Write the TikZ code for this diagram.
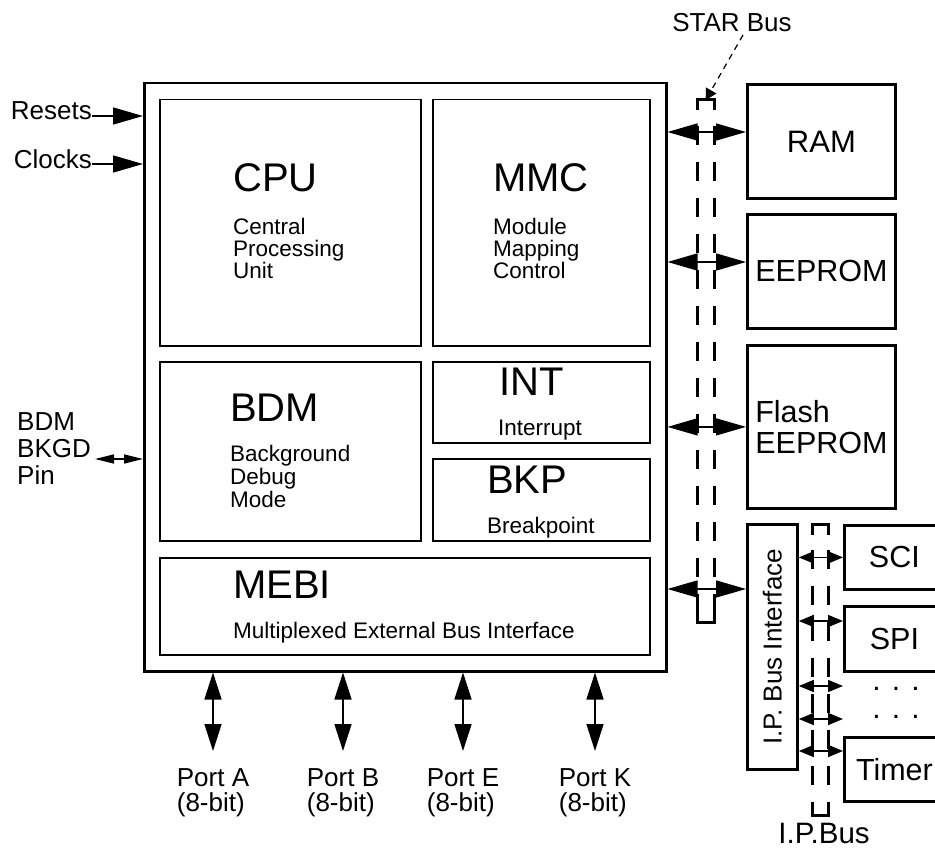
\documentclass[tikz,border=0pt]{standalone}
\usepackage{fontspec}
\setmainfont{Liberation Sans}
\usetikzlibrary{arrows.meta,positioning}
\tikzset{
  blk/.style={draw, line width=1.5pt, inner sep=0pt, anchor=north west},
  mem/.style={draw, line width=2.8pt, inner sep=0pt, anchor=north west, align=left,
    font=\fontsize{30.5}{31}\selectfont},
  periph/.style={mem, minimum width=100, font=\fontsize{30.5}{30}\selectfont},
  bus/.style={inner sep=0pt, anchor=north west},
  busline/.style={line width=3pt, dash pattern=on 19pt off 17pt, dash phase=10pt},
  busend/.style={line width=3pt},
  modname/.style={inner sep=0pt, anchor=base west, font=\fontsize{40}{40}\selectfont},
  desc/.style={inner sep=0pt, anchor=north west, align=left, font=\fontsize{22.5}{22}\selectfont},
  note/.style={inner sep=0pt, anchor=base west, font=\fontsize{22.5}{22}\selectfont},
  lbl/.style={inner sep=0pt, font=\fontsize{26}{27}\selectfont},
  ellip/.style={inner sep=0pt, anchor=base, font=\fontsize{30}{30}\selectfont},
  busarrow/.style={line width=1.5pt, {Triangle[length=30pt,width=17pt]}-{Triangle[length=30pt,width=17pt]}},
  ipbarrow/.style={line width=1.5pt, {Triangle[length=15pt,width=12pt]}-{Triangle[length=15pt,width=12pt]}},
  portarrow/.style={line width=1.5pt, {Triangle[length=27pt,width=17pt]}-{Triangle[length=27pt,width=17pt]}},
  pinarrow/.style={line width=1.5pt, {Triangle[length=19pt,width=9pt]}-{Triangle[length=19pt,width=9pt]}},
  inarrow/.style={line width=1.5pt, -{Triangle[length=30pt,width=17pt]}},
  leader/.style={line width=1.2pt, dash pattern=on 6pt off 5pt, -{Triangle[length=11pt,width=12pt]}}
}
\begin{document}
\begin{tikzpicture}[x=1pt,y=-1pt]
  \useasboundingbox (0,0) rectangle (935,848);
  % chip and its modules
  \node[blk, line width=2.5pt, minimum width=522, minimum height=588] (mcu) at (143,82) {};
  \node[blk, minimum width=261, minimum height=246] (cpu) at (159,99) {};
  \node[blk, minimum width=217, minimum height=246] (mmc) at (432,99) {};
  \node[blk, minimum width=261, minimum height=179] (bdm) at (159,361) {};
  \node[blk, minimum width=217, minimum height=81] (int) at (432,361) {};
  \node[blk, minimum width=217, minimum height=82] (bkp) at (432,458) {};
  \node[blk, minimum width=490, minimum height=97] (mebi) at (159,557) {};
  \node[modname] (cputitle) at (233,192) {CPU};
  \node[desc] (cpudesc) at (233,218) {Central\\Processing\\Unit};
  \node[modname] (mmctitle) at (493,192) {MMC};
  \node[desc] (mmcdesc) at (493,218) {Module\\Mapping\\Control};
  \node[modname] (bdmtitle) at (230,421) {BDM};
  \node[desc, font=\fontsize{22.5}{23}\selectfont] (bdmdesc) at (230,445) {Background\\Debug\\Mode};
  \node[modname] (inttitle) at (499,395) {INT};
  \node[note] (intdesc) at (498,435) {Interrupt};
  \node[modname] (bkptitle) at (487,493) {BKP};
  \node[note] (bkpdesc) at (487,533) {Breakpoint};
  \node[modname] (mebititle) at (233,598) {MEBI};
  \node[note] (mebidesc) at (233,638) {Multiplexed External Bus Interface};

  % inputs on the left
  \node[lbl, anchor=base east] (rst) at (92,120) {Resets};
  \node[lbl, anchor=base east] (clk) at (92,168) {Clocks};
  \coordinate (rstend) at ([yshift=4pt]rst.base east);
  \coordinate (clkend) at ([yshift=4pt]clk.base east);
  \draw[inarrow] (rstend) -- (rstend -| mcu.west);
  \draw[inarrow] (clkend) -- (clkend -| mcu.west);
  \node[lbl, align=left, anchor=north west] (bkgd) at (17,412) {BDM\\BKGD\\Pin};
  \coordinate (bkgdend) at (95,459);
  \draw[pinarrow] (bkgdend) -- (bkgdend -| mcu.west);

  % ports
  \foreach \x/\p in {213/A,343/B,463/E,595/K} {
    \node[lbl, align=left, anchor=north, font=\fontsize{26}{25}\selectfont] (port\p) at (\x,768) {Port \p\\(8-bit)};
    \draw[portarrow] (port\p.north |- mcu.south) -- ([yshift=17pt]port\p.north);
  }

  % memories on the STAR bus
  \node[mem, minimum width=148, minimum height=114, font=\fontsize{31}{31}\selectfont] (ram) at (746,83) {RAM};
  \node[mem, minimum width=148, minimum height=114] (eeprom) at (746,213) {EEPROM};
  \node[mem, minimum width=148, minimum height=163] (flash) at (746,344) {Flash\\EEPROM};
  \node[mem, minimum width=50, minimum height=245] (ipbi) at (746,523) {};
  \node[lbl, rotate=90] (ipbitxt) at (ipbi.center) {I.P. Bus Interface};
  \node[bus, minimum width=17, minimum height=522] (starbus) at (697,100) {};
  \draw[busline] (starbus.north west) -- (starbus.south west);
  \draw[busline] (starbus.north east) -- (starbus.south east);
  \draw[busend] ([yshift=-10pt]starbus.north west) |- (starbus.north) -| ([yshift=-10pt]starbus.north east);
  \draw[busend] ([yshift=12pt]starbus.south west) |- (starbus.south) -| ([yshift=12pt]starbus.south east);
  \node[lbl, anchor=base] (starlbl) at (732,32) {STAR Bus};
  \coordinate (starlead) at (743,35);
  \draw[leader] (starlead) -- (starbus.north);
  \draw[busarrow] (mcu.east |- 0,132) -- (ram.west |- 0,132);
  \draw[busarrow] (mcu.east |- 0,262) -- (eeprom.west |- 0,262);
  \draw[busarrow] (mcu.east |- flash.west) -- (flash.west);
  \draw[busarrow] (mcu.east |- 0,589) -- (ipbi.west |- 0,589);

  % peripherals on the I.P. bus
  \node[bus, minimum width=16, minimum height=291] (ipbus) at (812,524) {};
  \draw[busline] (ipbus.north west) -- (ipbus.south west);
  \draw[busline] (ipbus.north east) -- (ipbus.south east);
  \draw[busend] ([yshift=-11pt]ipbus.north west) |- (ipbus.north) -| ([yshift=-11pt]ipbus.north east);
  \draw[busend] ([yshift=12pt]ipbus.south west) |- (ipbus.south) -| ([yshift=12pt]ipbus.south east);
  \node[lbl, anchor=north, font=\fontsize{29.5}{30}\selectfont] (ipbuslbl) at (824,823) {I.P.Bus};
  \node[periph, minimum height=64] (sci) at (843,524) {SCI};
  \node[periph, minimum height=65] (spi) at (843,605) {SPI};
  \node[periph, minimum height=64] (timer) at (843,736) {Timer};
  \node[ellip] (dotsa) at (896,690) {. . .};
  \node[ellip] (dotsb) at (896,718) {. . .};
  \draw[ipbarrow] (ipbi.east |- sci.west) -- (sci.west);
  \draw[ipbarrow] (ipbi.east |- 0,621) -- (spi.west |- 0,621);
  \draw[ipbarrow] (ipbi.east |- 0,686) -- (timer.west |- 0,686);
  \draw[ipbarrow] (ipbi.east |- 0,719) -- (timer.west |- 0,719);
  \draw[ipbarrow] (ipbi.east |- 0,751) -- (timer.west |- 0,751);
\end{tikzpicture}
\end{document}
